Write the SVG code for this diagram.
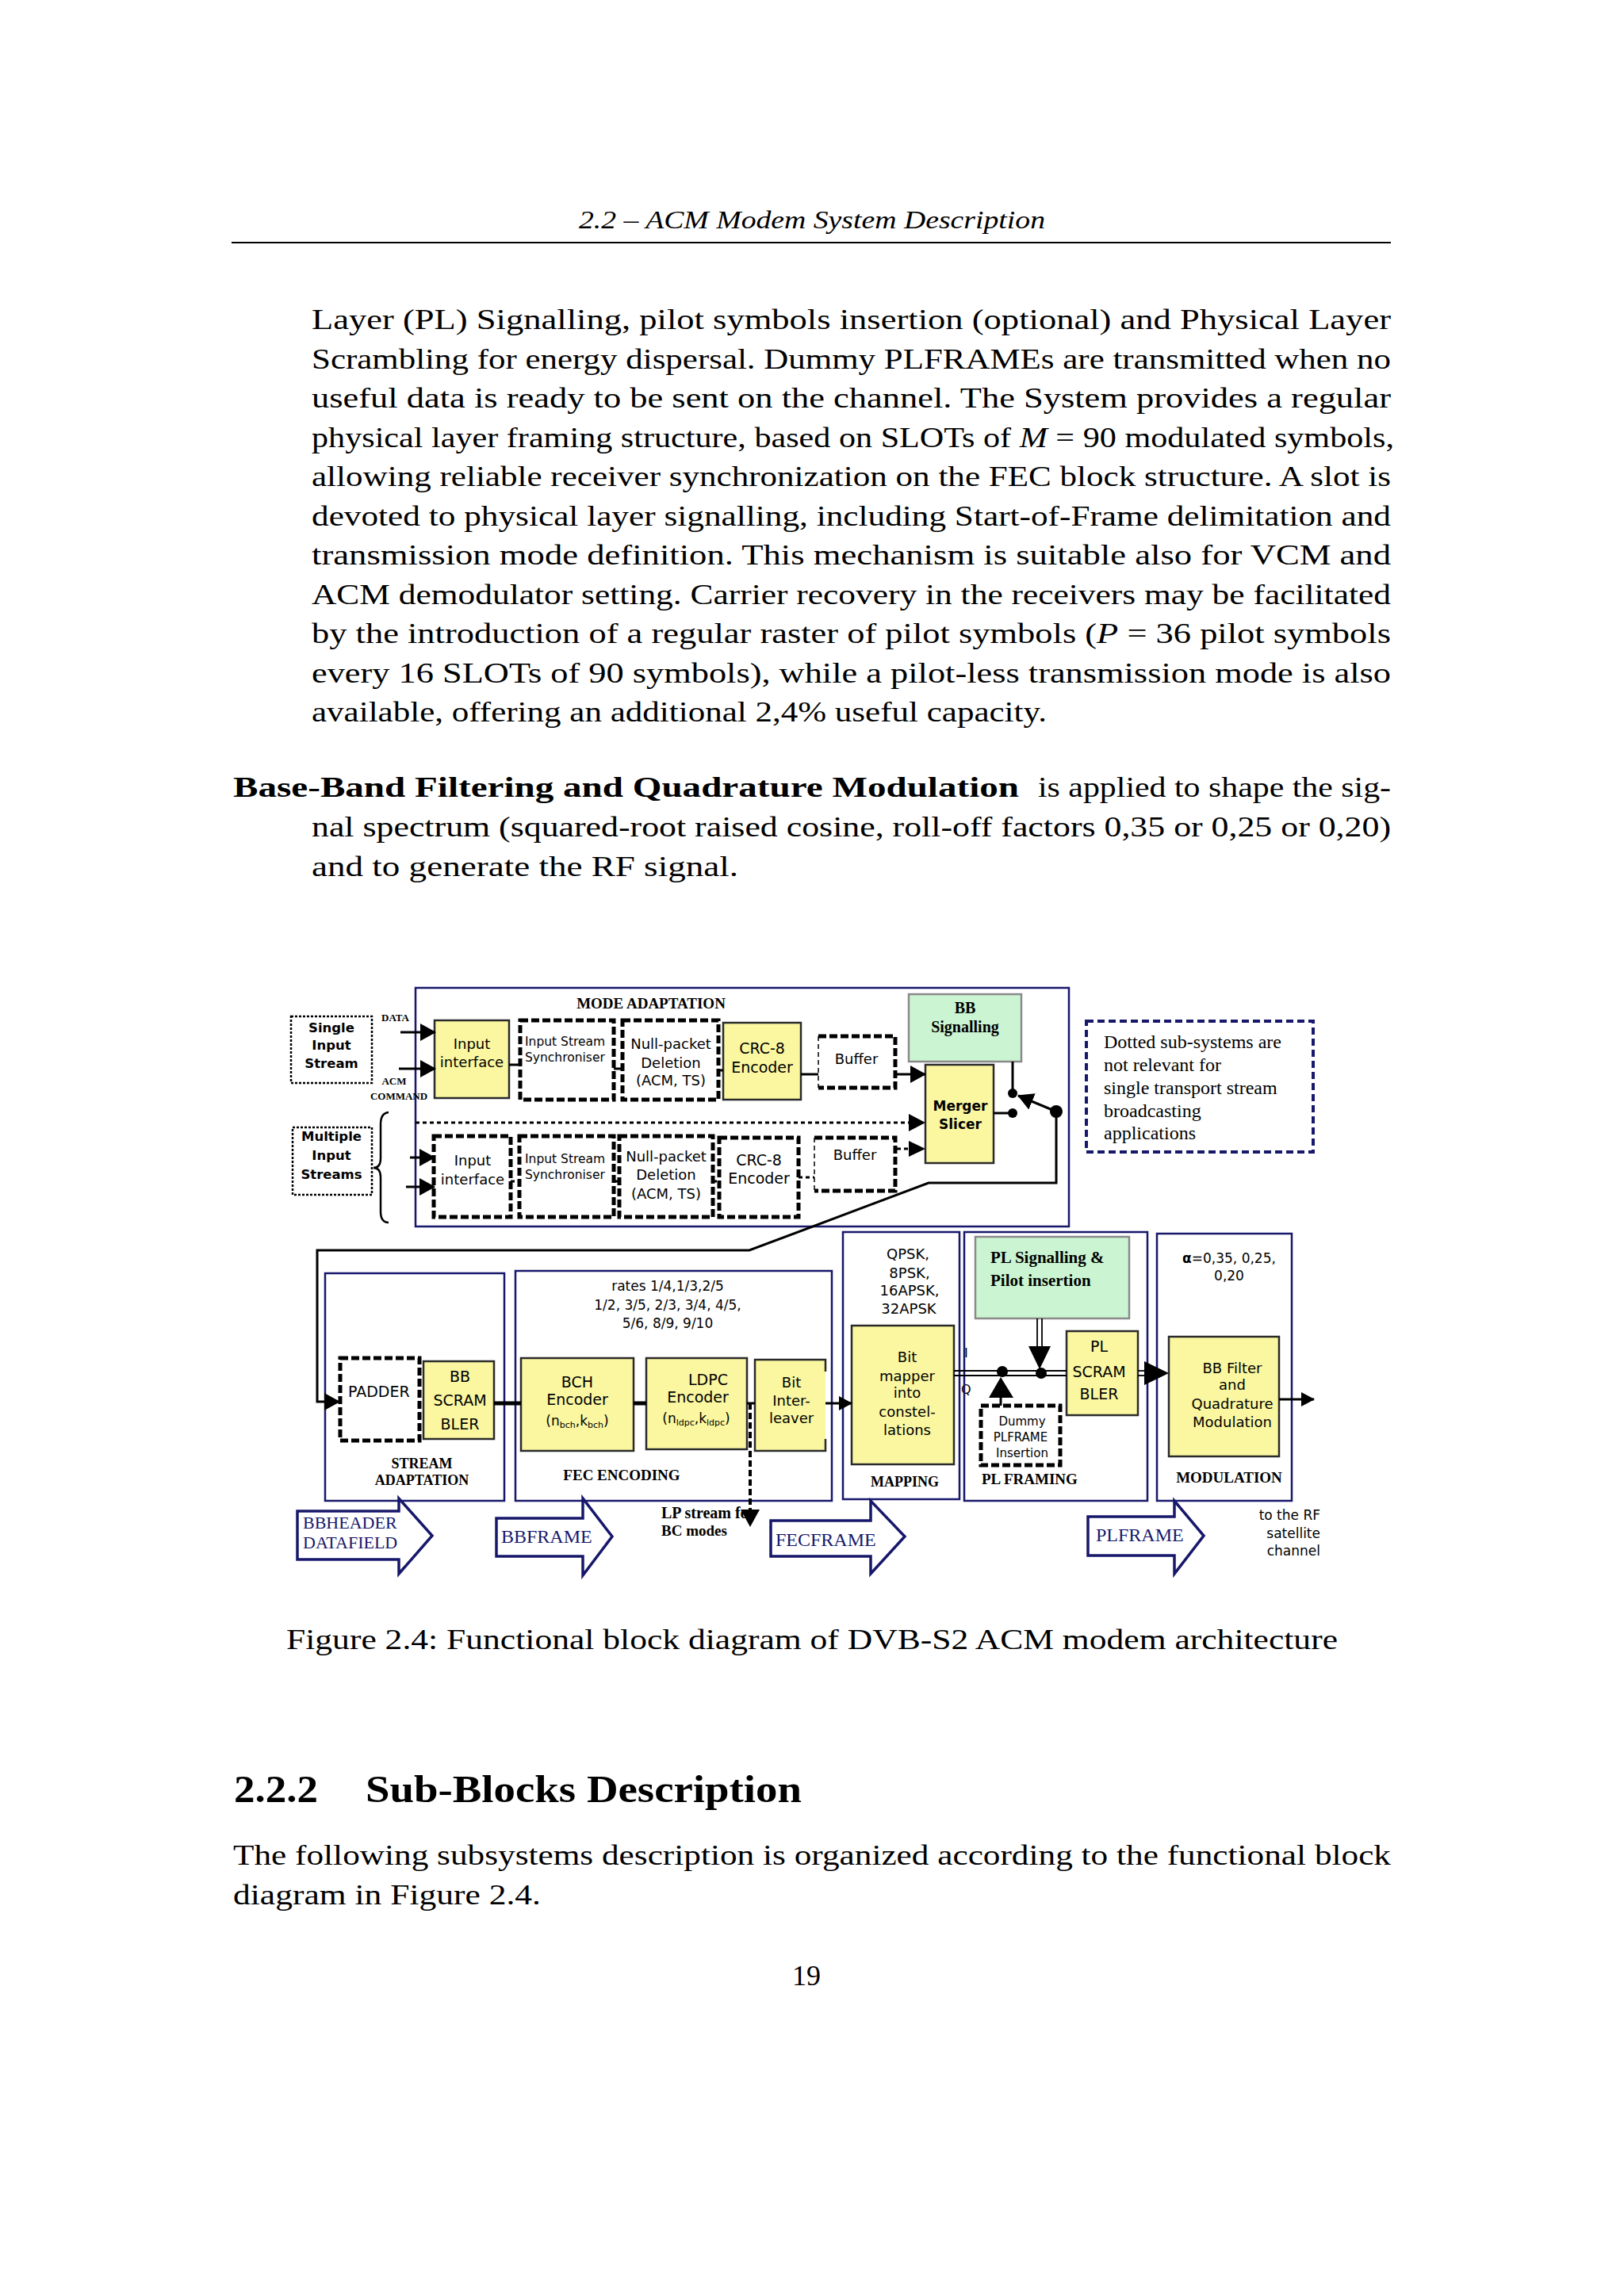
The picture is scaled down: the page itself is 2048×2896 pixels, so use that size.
<svg xmlns="http://www.w3.org/2000/svg" width="2048" height="2896" viewBox="0 0 2048 2896">
<style>
.pg{font-family:"Liberation Serif","Times New Roman",serif;fill:#000;font-size:36px}
.sans{font-family:"DejaVu Sans","Liberation Sans",sans-serif;fill:#000}
.srf{font-family:"Liberation Serif","Times New Roman",serif;fill:#000}
.b{font-weight:bold}
.i{font-style:italic}
.m{text-anchor:middle}
.e{text-anchor:end}
.yel{fill:#FAF7A0;stroke:#2a2a2a;stroke-width:2.5}
.grn{fill:#CBF5D2;stroke:#8a8a8a;stroke-width:2.5}
.dot{fill:#fff;stroke:#000;stroke-width:5;stroke-dasharray:10 4}
.grp{fill:none;stroke:#17176b;stroke-width:2.5}
.note{fill:#fff;stroke:#17176b;stroke-width:4;stroke-dasharray:9 5}
.thin{fill:#fff;stroke:#000;stroke-width:2.5;stroke-dasharray:3 2}
.ln{fill:none;stroke:#000;stroke-width:3}
.thk{fill:none;stroke:#000;stroke-width:5}
.dl{fill:none;stroke:#000;stroke-width:3;stroke-dasharray:5 4}
.bar{fill:#fff;stroke:#17176b;stroke-width:3.5}
.nv{fill:#17176b}
.blk{fill:#000}
.f13{font-size:13px}.f15{font-size:15px}.f16{font-size:16px}.f17{font-size:17px}.f18{font-size:18px}.f19{font-size:19px}.f20{font-size:20px}.f22{font-size:22px}.f24{font-size:24px}
</style>
<defs>
<marker id="ah" markerUnits="userSpaceOnUse" markerWidth="20" markerHeight="22" refX="19" refY="11" orient="auto">
<path d="M0,0 L20,11 L0,22 z" fill="#000"/>
</marker>
<marker id="ahs" markerUnits="userSpaceOnUse" markerWidth="17" markerHeight="18" refX="16" refY="9" orient="auto">
<path d="M0,0 L17,9 L0,18 z" fill="#000"/>
</marker>
</defs>
<rect width="2048" height="2896" fill="#fff"/>

<!-- page text -->
<g id="page-header">
<text class="pg i" x="1024" y="288" style="font-size:31px" text-anchor="middle" textLength="588" lengthAdjust="spacingAndGlyphs">2.2 – ACM Modem System Description</text>
<line x1="292" y1="306" x2="1754" y2="306" stroke="#000" stroke-width="2"/>
</g>
<g id="body-text">
<text class="pg" x="393" y="415" textLength="1361" lengthAdjust="spacingAndGlyphs">Layer (PL) Signalling, pilot symbols insertion (optional) and Physical Layer</text>
<text class="pg" x="393" y="464.5" textLength="1361" lengthAdjust="spacingAndGlyphs">Scrambling for energy dispersal. Dummy PLFRAMEs are transmitted when no</text>
<text class="pg" x="393" y="514" textLength="1361" lengthAdjust="spacingAndGlyphs">useful data is ready to be sent on the channel. The System provides a regular</text>
<text class="pg" x="393" y="563.5" textLength="1365" lengthAdjust="spacingAndGlyphs">physical layer framing structure, based on SLOTs of <tspan class="i">M</tspan> = 90 modulated symbols,</text>
<text class="pg" x="393" y="613" textLength="1361" lengthAdjust="spacingAndGlyphs">allowing reliable receiver synchronization on the FEC block structure. A slot is</text>
<text class="pg" x="393" y="662.5" textLength="1361" lengthAdjust="spacingAndGlyphs">devoted to physical layer signalling, including Start-of-Frame delimitation and</text>
<text class="pg" x="393" y="712" textLength="1361" lengthAdjust="spacingAndGlyphs">transmission mode definition. This mechanism is suitable also for VCM and</text>
<text class="pg" x="393" y="761.5" textLength="1361" lengthAdjust="spacingAndGlyphs">ACM demodulator setting. Carrier recovery in the receivers may be facilitated</text>
<text class="pg" x="393" y="811" textLength="1361" lengthAdjust="spacingAndGlyphs">by the introduction of a regular raster of pilot symbols (<tspan class="i">P</tspan> = 36 pilot symbols</text>
<text class="pg" x="393" y="860.5" textLength="1361" lengthAdjust="spacingAndGlyphs">every 16 SLOTs of 90 symbols), while a pilot-less transmission mode is also</text>
<text class="pg" x="393" y="910" textLength="927" lengthAdjust="spacingAndGlyphs">available, offering an additional 2,4% useful capacity.</text>
<text class="pg b" x="294" y="1005" textLength="991" lengthAdjust="spacingAndGlyphs">Base-Band Filtering and Quadrature Modulation</text>
<text class="pg" x="1309" y="1005" textLength="445" lengthAdjust="spacingAndGlyphs">is applied to shape the sig-</text>
<text class="pg" x="393" y="1055" textLength="1361" lengthAdjust="spacingAndGlyphs">nal spectrum (squared-root raised cosine, roll-off factors 0,35 or 0,25 or 0,20)</text>
<text class="pg" x="393" y="1105" textLength="538" lengthAdjust="spacingAndGlyphs">and to generate the RF signal.</text>
</g>
<g id="caption">
<text class="pg" x="361" y="2080" textLength="1326" lengthAdjust="spacingAndGlyphs">Figure 2.4: Functional block diagram of DVB-S2 ACM modem architecture</text>
</g>
<g id="section">
<text class="pg b" x="295" y="2273" style="font-size:48px" textLength="106" lengthAdjust="spacingAndGlyphs">2.2.2</text>
<text class="pg b" x="461" y="2273" style="font-size:48px" textLength="550" lengthAdjust="spacingAndGlyphs">Sub-Blocks Description</text>
<text class="pg" x="294" y="2352" textLength="1460" lengthAdjust="spacingAndGlyphs">The following subsystems description is organized according to the functional block</text>
<text class="pg" x="294" y="2402" textLength="388" lengthAdjust="spacingAndGlyphs">diagram in Figure 2.4.</text>
<text class="pg" x="1017" y="2504" text-anchor="middle">19</text>
</g>

<!-- ===== diagram ===== -->
<g id="mode-adaptation">
<rect class="grp" x="524" y="1246" width="824" height="301"/>
<text class="srf b f19" x="821" y="1272" text-anchor="middle">MODE ADAPTATION</text>
</g>
<g id="single-input-stream">
<rect class="thin" x="367" y="1282" width="102" height="84"/>
<text class="sans b m" style="font-size:16.5px" x="418" y="1302">Single</text>
<text class="sans b m" style="font-size:16.5px" x="418" y="1324">Input</text>
<text class="sans b m" style="font-size:16.5px" x="418" y="1347">Stream</text>
</g>
<g id="multiple-input-streams">
<rect class="thin" x="369" y="1422" width="100" height="85"/>
<text class="sans b m" style="font-size:16.5px" x="418" y="1439">Multiple</text>
<text class="sans b m" style="font-size:16.5px" x="418" y="1463">Input</text>
<text class="sans b m" style="font-size:16.5px" x="418" y="1487">Streams</text>
<path d="M490,1403 Q480,1404 480,1418 L480,1461 Q480,1473 471,1473 Q480,1473 480,1485 L480,1528 Q480,1542 490,1542" fill="none" stroke="#000" stroke-width="2.5"/>
</g>
<g id="labels-data-acm">
<text class="srf b f13" x="481" y="1288">DATA</text>
<text class="srf b f13 m" x="497" y="1368">ACM</text>
<text class="srf b f13 m" x="503" y="1387">COMMAND</text>
</g>
<g id="input-interface">
<rect class="yel" x="548" y="1287" width="94" height="98"/>
<text class="sans f18 m" x="595" y="1323">Input</text>
<text class="sans f18 m" x="595" y="1346">interface</text>
</g>
<g id="input-stream-sync">
<rect class="dot" x="656" y="1287" width="118" height="100"/>
<text class="sans" style="font-size:15.5px" x="662" y="1319">Input Stream</text>
<text class="sans" style="font-size:15.5px" x="662" y="1339">Synchroniser</text>
</g>
<g id="null-packet-deletion">
<rect class="dot" x="785" y="1287" width="121" height="100"/>
<text class="sans f18 m" x="846" y="1323">Null-packet</text>
<text class="sans f18 m" x="846" y="1347">Deletion</text>
<text class="sans f18 m" x="846" y="1369">(ACM, TS)</text>
</g>
<g id="crc8-encoder">
<rect class="yel" x="912" y="1290" width="98" height="97"/>
<text class="sans f19 m" x="961" y="1329">CRC-8</text>
<text class="sans f19 m" x="961" y="1353">Encoder</text>
</g>
<g id="buffer">
<rect x="1032" y="1307" width="97" height="65" fill="#fff"/>
<path d="M1032,1307 H1129 V1372 H1032" fill="none" stroke="#000" stroke-width="5" stroke-dasharray="10 4"/>
<line x1="1032" y1="1307" x2="1032" y2="1372" stroke="#000" stroke-width="1.5" stroke-dasharray="6 4"/>
<text class="sans f18 m" x="1080" y="1342">Buffer</text>
</g>
<g id="bb-signalling">
<rect class="grn" x="1146" y="1254" width="142" height="85"/>
<text class="srf b f20 m" x="1217" y="1278">BB</text>
<text class="srf b f20 m" x="1217" y="1302">Signalling</text>
</g>
<g id="merger-slicer">
<rect class="yel" x="1167" y="1343" width="86" height="124"/>
<text class="sans b f17 m" x="1211" y="1401">Merger</text>
<text class="sans b f17 m" x="1211" y="1424">Slicer</text>
</g>
<g id="input-interface-2">
<rect class="dot" x="547" y="1433" width="97" height="102"/>
<text class="sans f18 m" x="596" y="1470">Input</text>
<text class="sans f18 m" x="596" y="1494">interface</text>
</g>
<g id="input-stream-sync-2">
<rect class="dot" x="655" y="1433" width="119" height="102"/>
<text class="sans" style="font-size:15.5px" x="662" y="1467">Input Stream</text>
<text class="sans" style="font-size:15.5px" x="662" y="1487">Synchroniser</text>
</g>
<g id="null-packet-deletion-2">
<rect class="dot" x="781" y="1433" width="118" height="102"/>
<text class="sans f18 m" x="840" y="1465">Null-packet</text>
<text class="sans f18 m" x="840" y="1488">Deletion</text>
<text class="sans f18 m" x="840" y="1512">(ACM, TS)</text>
</g>
<g id="crc8-encoder-2">
<rect class="dot" x="907" y="1435" width="100" height="100"/>
<text class="sans f19 m" x="957" y="1470">CRC-8</text>
<text class="sans f19 m" x="957" y="1493">Encoder</text>
</g>
<g id="buffer-2">
<rect x="1027" y="1435" width="102" height="67" fill="#fff"/>
<path d="M1027,1435 H1129 V1502 H1027" fill="none" stroke="#000" stroke-width="5" stroke-dasharray="10 4"/>
<line x1="1027" y1="1435" x2="1027" y2="1502" stroke="#000" stroke-width="1.5" stroke-dasharray="6 4"/>
<text class="sans f18 m" x="1078" y="1463">Buffer</text>
</g>
<g id="note">
<rect class="note" x="1370" y="1288" width="286" height="165"/>
<text class="srf f24" x="1392" y="1322">Dotted sub-systems are</text>
<text class="srf f24" x="1392" y="1351">not relevant for</text>
<text class="srf f24" x="1392" y="1380">single transport stream</text>
<text class="srf f24" x="1392" y="1409">broadcasting</text>
<text class="srf f24" x="1392" y="1437">applications</text>
</g>

<g id="stream-adaptation">
<rect class="grp" x="410" y="1606" width="226" height="287"/>
<text class="srf b f18 m" x="532" y="1852">STREAM</text>
<text class="srf b f18 m" x="532" y="1873">ADAPTATION</text>
</g>
<g id="padder">
<rect class="dot" x="429" y="1713" width="100" height="104"/>
<text class="sans f19" x="439" y="1762">PADDER</text>
</g>
<g id="bb-scrambler">
<rect class="yel" x="534" y="1717" width="89" height="98"/>
<text class="sans f19 m" x="580" y="1743">BB</text>
<text class="sans f19 m" x="580" y="1773">SCRAM</text>
<text class="sans f19 m" x="580" y="1803">BLER</text>
</g>
<g id="fec-encoding">
<rect class="grp" x="650" y="1603" width="399" height="290"/>
<text class="sans f17 m" x="842" y="1628">rates 1/4,1/3,2/5</text>
<text class="sans f17 m" x="842" y="1652">1/2, 3/5, 2/3, 3/4, 4/5,</text>
<text class="sans f17 m" x="842" y="1675">5/6, 8/9, 9/10</text>
<text class="srf b f19 m" x="784" y="1867">FEC ENCODING</text>
</g>
<g id="bch-encoder">
<rect class="yel" x="657" y="1713" width="142" height="117"/>
<text class="sans f19 m" x="728" y="1750">BCH</text>
<text class="sans f19 m" x="728" y="1772">Encoder</text>
<text class="sans f17 m" x="728" y="1798">(n<tspan style="font-size:11px" dy="3">bch</tspan><tspan dy="-3">,k</tspan><tspan style="font-size:11px" dy="3">bch</tspan><tspan dy="-3">)</tspan></text>
</g>
<g id="ldpc-encoder">
<rect class="yel" x="815" y="1713" width="127" height="115"/>
<text class="sans f19 m" x="893" y="1747">LDPC</text>
<text class="sans f19 m" x="880" y="1769">Encoder</text>
<text class="sans f17 m" x="878" y="1795">(n<tspan style="font-size:11px" dy="3">ldpc</tspan><tspan dy="-3">,k</tspan><tspan style="font-size:11px" dy="3">ldpc</tspan><tspan dy="-3">)</tspan></text>
</g>
<g id="bit-interleaver">
<rect x="952" y="1715" width="89" height="115" fill="#FAF7A0"/>
<path d="M1041,1730 V1715 H952 V1830 H1041 V1815" fill="none" stroke="#2a2a2a" stroke-width="2.5"/>
<text class="sans f18 m" x="998" y="1750">Bit</text>
<text class="sans f18 m" x="998" y="1773">Inter-</text>
<text class="sans f18 m" x="998" y="1795">leaver</text>
</g>
<g id="lp-stream-label">
<text class="srf b f20" x="834" y="1915">LP stream for</text>
<text class="srf b f19" x="834" y="1937">BC modes</text>
</g>
<g id="mapping">
<rect class="grp" x="1063" y="1554" width="147" height="337"/>
<text class="sans f18 m" x="1145" y="1588">QPSK,</text>
<text class="sans f18 m" x="1147" y="1612">8PSK,</text>
<text class="sans f18 m" x="1147" y="1634">16APSK,</text>
<text class="sans f18 m" x="1146" y="1657">32APSK</text>
<text class="srf b f18 m" x="1141" y="1875">MAPPING</text>
</g>
<g id="bit-mapper">
<rect class="yel" x="1074" y="1672" width="129" height="175"/>
<text class="sans f18 m" x="1144" y="1718">Bit</text>
<text class="sans f18 m" x="1144" y="1742">mapper</text>
<text class="sans f18 m" x="1144" y="1763">into</text>
<text class="sans f18 m" x="1144" y="1787">constel-</text>
<text class="sans f18 m" x="1144" y="1810">lations</text>
</g>
<g id="iq-labels">
<text class="sans f16" x="1216" y="1712">I</text>
<text class="sans f16" x="1212" y="1758">Q</text>
</g>
<g id="pl-framing">
<rect class="grp" x="1216" y="1554" width="231" height="339"/>
<text class="srf b f19" x="1238" y="1872">PL FRAMING</text>
</g>
<g id="pl-signalling">
<rect class="grn" x="1230" y="1560" width="194" height="103"/>
<text class="srf b" style="font-size:21px" x="1249" y="1593">PL Signalling &amp;</text>
<text class="srf b" style="font-size:21px" x="1249" y="1622">Pilot insertion</text>
</g>
<g id="dummy-plframe">
<rect class="dot" x="1237" y="1773" width="100" height="75"/>
<text class="sans f15 m" x="1289" y="1798">Dummy</text>
<text class="sans f15 m" x="1287" y="1818">PLFRAME</text>
<text class="sans f15 m" x="1289" y="1838">Insertion</text>
</g>
<g id="pl-scrambler">
<rect class="yel" x="1345" y="1679" width="90" height="106"/>
<text class="sans f19 m" x="1386" y="1705">PL</text>
<text class="sans f19 m" x="1386" y="1737">SCRAM</text>
<text class="sans f19 m" x="1386" y="1765">BLER</text>
</g>
<g id="modulation">
<rect class="grp" x="1459" y="1556" width="170" height="337"/>
<text class="sans f17 m" x="1550" y="1593"><tspan font-weight="bold">α</tspan>=0,35, 0,25,</text>
<text class="sans f17 m" x="1550" y="1615">0,20</text>
<text class="srf b f19 m" x="1550" y="1870">MODULATION</text>
</g>
<g id="bb-filter">
<rect class="yel" x="1474" y="1686" width="139" height="151"/>
<text class="sans f18 m" x="1554" y="1732">BB Filter</text>
<text class="sans f18 m" x="1554" y="1753">and</text>
<text class="sans f18 m" x="1554" y="1777">Quadrature</text>
<text class="sans f18 m" x="1554" y="1800">Modulation</text>
</g>
<g id="rf-label">
<text class="sans f17 e" x="1665" y="1917">to the RF</text>
<text class="sans f17 e" x="1665" y="1940">satellite</text>
<text class="sans f17 e" x="1665" y="1962">channel</text>
</g>
<g id="arrow-bbheader">
<path class="bar" d="M375,1906 H503 V1890 L545,1937 L503,1985 V1967 H375 Z"/>
<text class="srf f22 nv" x="382" y="1928">BBHEADER</text>
<text class="srf f22 nv" x="382" y="1953">DATAFIELD</text>
</g>
<g id="arrow-bbframe">
<path class="bar" d="M626,1915 H735 V1890 L772,1938 L735,1987 V1963 H626 Z"/>
<text class="srf f24 nv" x="632" y="1946">BBFRAME</text>
</g>
<g id="arrow-fecframe">
<path class="bar" d="M972,1918 H1098 V1893 L1141,1938 L1098,1985 V1963 H972 Z"/>
<text class="srf f24 nv" x="978" y="1950">FECFRAME</text>
</g>
<g id="arrow-plframe">
<path class="bar" d="M1372,1913 H1481 V1893 L1518,1937 L1481,1985 V1962 H1372 Z"/>
<text class="srf f24 nv" x="1382" y="1944">PLFRAME</text>
</g>

<g id="connectors">
<line class="ln" x1="505" y1="1302" x2="549" y2="1302" marker-end="url(#ah)"/>
<line class="ln" x1="503" y1="1348" x2="549" y2="1348" marker-end="url(#ah)"/>
<line class="ln" x1="642" y1="1343" x2="656" y2="1343"/>
<line class="ln" x1="774" y1="1348" x2="785" y2="1348"/>
<line class="ln" x1="906" y1="1350" x2="912" y2="1350"/>
<line class="ln" x1="1010" y1="1355" x2="1032" y2="1355"/>
<line class="ln" x1="1129" y1="1355" x2="1167" y2="1355" marker-end="url(#ah)"/>
<path class="dl" d="M524,1416 H1147"/>
<path d="M1146,1405 L1167,1416 L1146,1427 Z" class="blk"/>
<line class="ln" x1="517" y1="1460" x2="548" y2="1460" marker-end="url(#ah)"/>
<line class="ln" x1="512" y1="1497" x2="548" y2="1497" marker-end="url(#ah)"/>
<line class="dl" x1="644" y1="1490" x2="655" y2="1490"/>
<line class="dl" x1="774" y1="1490" x2="781" y2="1490"/>
<line class="dl" x1="899" y1="1490" x2="907" y2="1490"/>
<line class="dl" x1="1007" y1="1485" x2="1027" y2="1485"/>
<line class="dl" x1="1131" y1="1449" x2="1148" y2="1449"/>
<path d="M1146,1439 L1167,1449 L1146,1459 Z" class="blk"/>
<line class="ln" x1="1277" y1="1339" x2="1277" y2="1379"/>
<circle class="blk" cx="1277" cy="1379" r="6"/>
<line class="ln" x1="1253" y1="1404" x2="1277" y2="1404"/>
<circle class="blk" cx="1277" cy="1404" r="6"/>
<line class="ln" x1="1332" y1="1402" x2="1284" y2="1382" marker-end="url(#ah)"/>
<circle class="blk" cx="1332" cy="1402" r="8"/>
<path class="ln" d="M1332,1402 V1492 H1171 L945,1577 H400 V1768 H428" marker-end="url(#ah)"/>
<line class="thk" x1="623" y1="1770" x2="657" y2="1770"/>
<line class="thk" x1="799" y1="1770" x2="815" y2="1770"/>
<line class="ln" x1="942" y1="1770" x2="952" y2="1770"/>
<line x1="946" y1="1770" x2="946" y2="1906" stroke="#000" stroke-width="4" stroke-dasharray="8 4"/>
<path class="blk" d="M934,1904 L958,1904 L946,1926 Z"/>
<line class="ln" x1="1041" y1="1770" x2="1074" y2="1770" marker-end="url(#ahs)"/>
<line x1="1203" y1="1729" x2="1345" y2="1729" stroke="#000" stroke-width="1.8"/>
<line x1="1203" y1="1735" x2="1345" y2="1735" stroke="#000" stroke-width="1.8"/>
<line x1="1308" y1="1663" x2="1308" y2="1700" stroke="#000" stroke-width="1.8"/>
<line x1="1314" y1="1663" x2="1314" y2="1700" stroke="#000" stroke-width="1.8"/>
<path class="blk" d="M1297,1698 L1325,1698 L1311,1727 Z"/>
<circle class="blk" cx="1313" cy="1732" r="7"/>
<circle class="blk" cx="1264" cy="1730" r="7"/>
<path class="blk" d="M1247,1763 L1278,1763 L1262,1737 Z"/>
<line class="ln" x1="1262" y1="1763" x2="1262" y2="1773"/>
<line x1="1435" y1="1729" x2="1446" y2="1729" stroke="#000" stroke-width="1.8"/>
<line x1="1435" y1="1735" x2="1446" y2="1735" stroke="#000" stroke-width="1.8"/>
<path class="blk" d="M1443,1717 L1474,1732 L1443,1747 Z"/>
<line class="ln" x1="1613" y1="1765" x2="1657" y2="1765" marker-end="url(#ahs)"/>
</g>
</svg>
